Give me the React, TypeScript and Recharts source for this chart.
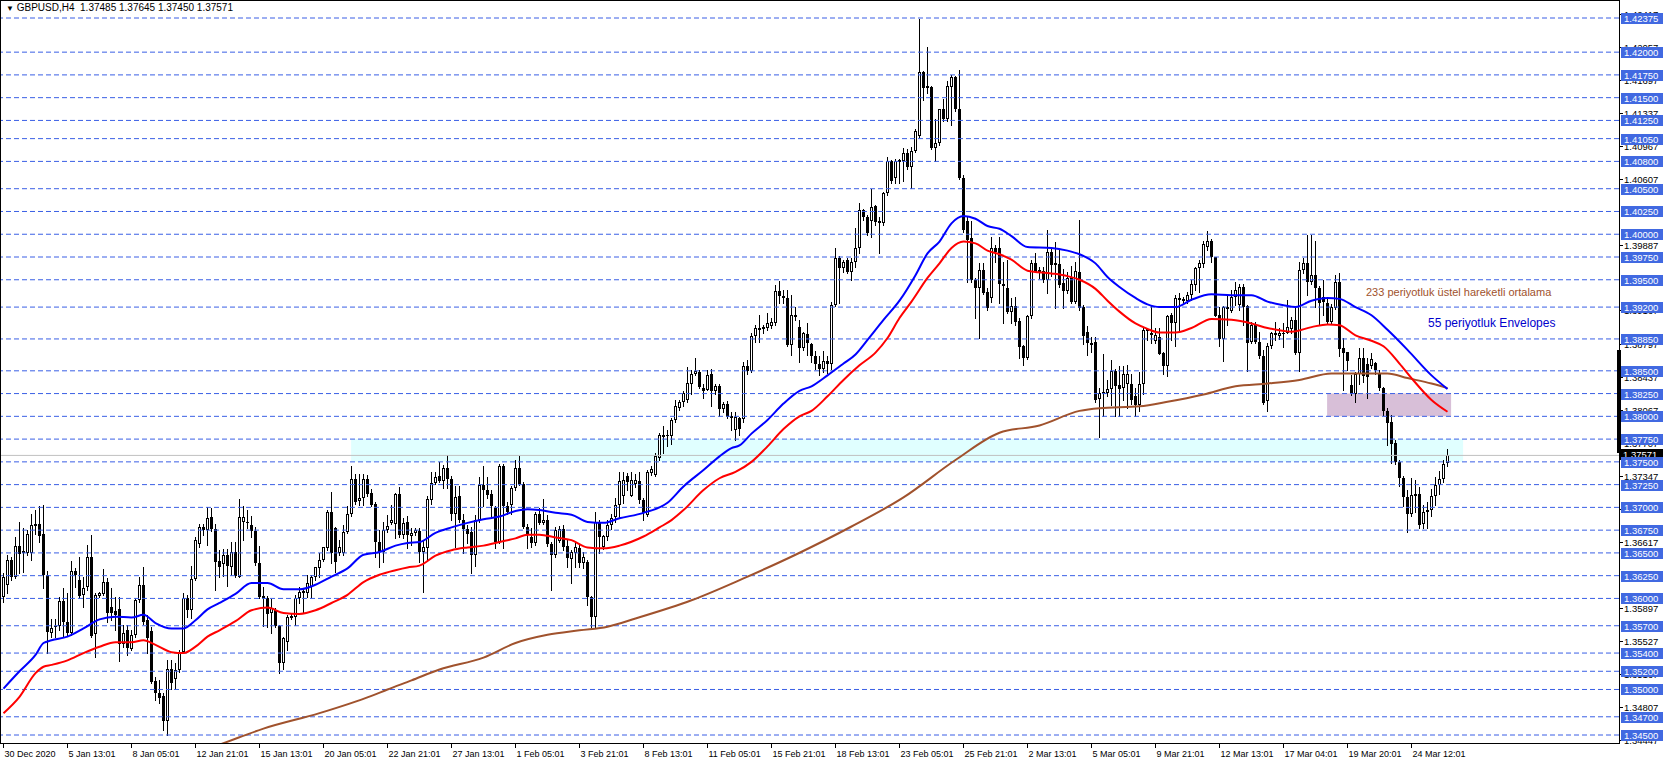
import React from "react";
import {
  Bar,
  ComposedChart,
  Line,
  ReferenceArea,
  ReferenceLine,
  XAxis,
  YAxis,
} from "recharts";

// GBPUSD H4 bars as [open, high, low, close]
const bars30DecTo13Jan = [
  [1.3602, 1.3628, 1.3596, 1.3623], [1.3615, 1.3648, 1.3606, 1.3642], [1.3642, 1.3646, 1.362, 1.3624], [1.3624, 1.3668, 1.3622, 1.3658],
  [1.3658, 1.3684, 1.3628, 1.3649], [1.365, 1.3677, 1.3629, 1.3652], [1.365, 1.3675, 1.3648, 1.3671], [1.365, 1.3693, 1.3642, 1.3681],
  [1.3681, 1.3697, 1.3671, 1.3682], [1.3682, 1.3701, 1.3662, 1.3669], [1.3671, 1.3703, 1.3611, 1.3626], [1.3626, 1.363, 1.354, 1.3563],
  [1.3562, 1.3577, 1.3558, 1.3568], [1.357, 1.3577, 1.3558, 1.3569], [1.357, 1.3602, 1.3565, 1.3597], [1.3597, 1.3612, 1.3558, 1.3574],
  [1.3574, 1.3606, 1.356, 1.3562], [1.3562, 1.3641, 1.356, 1.363], [1.363, 1.3633, 1.3613, 1.3626], [1.362, 1.3645, 1.36, 1.3603],
  [1.3604, 1.3624, 1.3591, 1.3612], [1.3613, 1.3659, 1.3609, 1.3646], [1.3646, 1.367, 1.3558, 1.3559], [1.3561, 1.3606, 1.3536, 1.3604],
  [1.3603, 1.3607, 1.3602, 1.3606], [1.3605, 1.3632, 1.3604, 1.3618], [1.3618, 1.3622, 1.3574, 1.3584], [1.3591, 1.3611, 1.3576, 1.3584],
  [1.3586, 1.3602, 1.3565, 1.3582], [1.3588, 1.3602, 1.3531, 1.355], [1.355, 1.3571, 1.3547, 1.3562], [1.3565, 1.3571, 1.3538, 1.3546],
  [1.3545, 1.3565, 1.3543, 1.356], [1.356, 1.36, 1.3558, 1.3598], [1.3598, 1.3624, 1.3596, 1.3615], [1.3615, 1.3634, 1.3572, 1.3574],
  [1.3576, 1.3582, 1.354, 1.3556], [1.3564, 1.3569, 1.3507, 1.3508], [1.3509, 1.3514, 1.3488, 1.3496], [1.3496, 1.351, 1.3485, 1.3491],
  [1.3493, 1.3496, 1.3456, 1.3465], [1.3465, 1.3532, 1.345, 1.3523], [1.3523, 1.3532, 1.3501, 1.3507], [1.3511, 1.3529, 1.3501, 1.3521],
  [1.3521, 1.3543, 1.3519, 1.3541], [1.3541, 1.3606, 1.354, 1.36], [1.36, 1.3604, 1.358, 1.3587], [1.3587, 1.3636, 1.3578, 1.3621],
  [1.3621, 1.3668, 1.362, 1.3664], [1.366, 1.3682, 1.3657, 1.3679], [1.3678, 1.3682, 1.367, 1.3675], [1.3675, 1.37, 1.3659, 1.3688],
];

const bars13JanTo25Jan = [
  [1.3689, 1.3699, 1.3674, 1.3676], [1.3676, 1.3682, 1.3609, 1.364], [1.3641, 1.3653, 1.3624, 1.3634], [1.3638, 1.3654, 1.3625, 1.3648],
  [1.3648, 1.3654, 1.3614, 1.3636], [1.3635, 1.3662, 1.3626, 1.3651], [1.3651, 1.3662, 1.3623, 1.3625], [1.3624, 1.3709, 1.3623, 1.3689],
  [1.3684, 1.3701, 1.3664, 1.3689], [1.3684, 1.3697, 1.3677, 1.3683], [1.3681, 1.3691, 1.3668, 1.3674], [1.3674, 1.3678, 1.3637, 1.3639],
  [1.3639, 1.3658, 1.36, 1.3602], [1.3603, 1.3613, 1.357, 1.3601], [1.3601, 1.3603, 1.3569, 1.3583], [1.3584, 1.3599, 1.3562, 1.3589],
  [1.3587, 1.3589, 1.3569, 1.357], [1.357, 1.3571, 1.3518, 1.3529], [1.3529, 1.3558, 1.3523, 1.3556], [1.3552, 1.3582, 1.3543, 1.358],
  [1.3578, 1.3584, 1.3577, 1.3581], [1.358, 1.3604, 1.3571, 1.36], [1.36, 1.3613, 1.3595, 1.3607], [1.3608, 1.3611, 1.3584, 1.3606],
  [1.3606, 1.3626, 1.3602, 1.3617], [1.3613, 1.3626, 1.3602, 1.3623], [1.3623, 1.3635, 1.362, 1.3634], [1.3633, 1.365, 1.3624, 1.3642],
  [1.3642, 1.3657, 1.3641, 1.3656], [1.3655, 1.3697, 1.3653, 1.3695], [1.3695, 1.3717, 1.3639, 1.365], [1.3677, 1.3679, 1.3629, 1.364],
  [1.365, 1.3664, 1.3648, 1.3657], [1.365, 1.3681, 1.3648, 1.3673], [1.3673, 1.3702, 1.3672, 1.3693], [1.3693, 1.3745, 1.3691, 1.3731],
  [1.3731, 1.3737, 1.3704, 1.3706], [1.3707, 1.3737, 1.3703, 1.371], [1.371, 1.3737, 1.3703, 1.3731], [1.3731, 1.3736, 1.3712, 1.3715],
  [1.3716, 1.372, 1.3701, 1.3703], [1.3704, 1.3706, 1.3646, 1.3662], [1.3662, 1.3675, 1.3635, 1.3651], [1.3651, 1.3684, 1.364, 1.3675],
  [1.3675, 1.3692, 1.3673, 1.368], [1.3683, 1.3703, 1.3682, 1.3686], [1.3682, 1.3716, 1.3666, 1.3715], [1.3715, 1.3722, 1.3668, 1.367],
  [1.367, 1.3688, 1.3666, 1.3683], [1.3684, 1.369, 1.3655, 1.367],
];

const bars25JanTo5Feb = [
  [1.3669, 1.3677, 1.3659, 1.3672], [1.3672, 1.3677, 1.367, 1.3675], [1.3674, 1.3677, 1.364, 1.3651], [1.3651, 1.3664, 1.3607, 1.3657],
  [1.3655, 1.3712, 1.3642, 1.3709], [1.3708, 1.3739, 1.3704, 1.3727], [1.3727, 1.3739, 1.3726, 1.3733], [1.3734, 1.375, 1.3728, 1.3729],
  [1.3729, 1.3747, 1.3721, 1.3743], [1.3743, 1.3758, 1.3721, 1.3731], [1.3731, 1.3734, 1.3686, 1.3693], [1.3693, 1.3723, 1.3657, 1.3711],
  [1.3712, 1.3723, 1.3684, 1.3686], [1.3686, 1.3693, 1.365, 1.3676], [1.3676, 1.3681, 1.3661, 1.3671], [1.3673, 1.3679, 1.3628, 1.3648],
  [1.3648, 1.3692, 1.3636, 1.3686], [1.3686, 1.3733, 1.3684, 1.3725], [1.3725, 1.3745, 1.3701, 1.3719], [1.3719, 1.3733, 1.371, 1.3714],
  [1.3715, 1.3719, 1.369, 1.3701], [1.3699, 1.3701, 1.3655, 1.3662], [1.3662, 1.3748, 1.3661, 1.3745], [1.3745, 1.3748, 1.3655, 1.3701],
  [1.3701, 1.3706, 1.3693, 1.3695], [1.3703, 1.3723, 1.3693, 1.3721], [1.3721, 1.3752, 1.3719, 1.3743], [1.3743, 1.3756, 1.3725, 1.3726],
  [1.3726, 1.3728, 1.3677, 1.3678], [1.3678, 1.3682, 1.3655, 1.3671], [1.3668, 1.3677, 1.3656, 1.3661], [1.3661, 1.3695, 1.3659, 1.3693],
  [1.3693, 1.3699, 1.3682, 1.3683], [1.3683, 1.3709, 1.3682, 1.3686], [1.3686, 1.3692, 1.3658, 1.366], [1.366, 1.3662, 1.3609, 1.3648],
  [1.3648, 1.3679, 1.3646, 1.3675], [1.3663, 1.368, 1.3662, 1.3676], [1.3676, 1.3681, 1.3653, 1.3657], [1.3658, 1.3664, 1.3635, 1.3644],
  [1.3643, 1.3653, 1.3617, 1.3651], [1.365, 1.3662, 1.3635, 1.3656], [1.3655, 1.3659, 1.3634, 1.3639], [1.3639, 1.3651, 1.3633, 1.3645],
  [1.364, 1.3642, 1.3593, 1.3602], [1.3602, 1.3603, 1.3569, 1.358], [1.358, 1.3695, 1.3567, 1.3684], [1.3684, 1.3686, 1.365, 1.3668],
  [1.3656, 1.367, 1.3654, 1.3669], [1.3668, 1.3686, 1.3664, 1.3681],
];

const bars5FebTo17Feb = [
  [1.3681, 1.3693, 1.3676, 1.3688], [1.3689, 1.371, 1.3684, 1.3703], [1.3703, 1.3739, 1.3688, 1.3729], [1.3712, 1.3739, 1.3705, 1.373],
  [1.3734, 1.3738, 1.3719, 1.3728], [1.3713, 1.3739, 1.3712, 1.373], [1.3726, 1.3737, 1.3722, 1.373], [1.3729, 1.3739, 1.3705, 1.3708],
  [1.3708, 1.371, 1.3686, 1.3694], [1.3692, 1.3741, 1.369, 1.3739], [1.3738, 1.3745, 1.3736, 1.3742], [1.3736, 1.376, 1.3734, 1.3756],
  [1.3754, 1.3782, 1.3752, 1.378], [1.3779, 1.3789, 1.376, 1.378], [1.3779, 1.3785, 1.3767, 1.3778], [1.3778, 1.3798, 1.377, 1.3796],
  [1.3796, 1.3818, 1.3794, 1.3811], [1.3809, 1.3818, 1.3807, 1.3816], [1.3816, 1.3828, 1.3811, 1.3826], [1.3818, 1.3854, 1.3816, 1.3837],
  [1.3836, 1.3851, 1.3825, 1.3847], [1.3847, 1.3864, 1.3845, 1.385], [1.3849, 1.3851, 1.3831, 1.3832], [1.3831, 1.3836, 1.382, 1.3828],
  [1.3829, 1.3851, 1.3829, 1.3845], [1.3846, 1.3852, 1.3811, 1.3828], [1.3828, 1.3836, 1.3825, 1.3833], [1.3833, 1.3836, 1.38, 1.3808],
  [1.3808, 1.3816, 1.3805, 1.3814], [1.3814, 1.3817, 1.3798, 1.3799], [1.38, 1.3805, 1.3785, 1.3798], [1.3785, 1.3805, 1.3774, 1.3799],
  [1.3798, 1.3799, 1.378, 1.3786], [1.3797, 1.386, 1.3794, 1.3855], [1.3855, 1.3862, 1.3847, 1.385], [1.385, 1.3891, 1.3849, 1.3888],
  [1.3888, 1.39, 1.3882, 1.3897], [1.3896, 1.3911, 1.3882, 1.3897], [1.3897, 1.39, 1.3891, 1.3898], [1.3897, 1.3913, 1.3895, 1.3903],
  [1.3899, 1.3908, 1.3897, 1.3904], [1.3902, 1.3944, 1.39, 1.3938], [1.3938, 1.3949, 1.3924, 1.3932], [1.3932, 1.3939, 1.3924, 1.393],
  [1.393, 1.3939, 1.3877, 1.3878], [1.3878, 1.3933, 1.3867, 1.3911], [1.3911, 1.392, 1.3906, 1.3909], [1.3898, 1.3906, 1.386, 1.3875],
  [1.3875, 1.3893, 1.3873, 1.3891], [1.389, 1.3902, 1.3867, 1.388],
];

const bars17FebTo1Mar = [
  [1.3879, 1.388, 1.386, 1.3866], [1.3866, 1.3872, 1.3852, 1.3858], [1.3858, 1.3866, 1.3845, 1.3852], [1.3852, 1.3872, 1.3849, 1.3861],
  [1.3861, 1.3866, 1.3848, 1.3857], [1.3857, 1.3926, 1.3852, 1.3922], [1.3922, 1.3985, 1.3921, 1.3974], [1.3974, 1.3976, 1.3924, 1.3963],
  [1.3963, 1.3972, 1.3959, 1.397], [1.3972, 1.3974, 1.3957, 1.3959], [1.3959, 1.3974, 1.395, 1.397], [1.397, 1.4007, 1.3964, 1.3985],
  [1.3985, 1.4034, 1.3979, 1.4027], [1.4027, 1.4028, 1.4016, 1.4019], [1.4019, 1.4021, 1.3999, 1.4001], [1.4014, 1.405, 1.3997, 1.403],
  [1.4031, 1.4032, 1.401, 1.4013], [1.4015, 1.4019, 1.3979, 1.4012], [1.4012, 1.4046, 1.401, 1.4045], [1.4045, 1.4085, 1.4043, 1.408],
  [1.408, 1.4082, 1.4056, 1.4058], [1.4062, 1.4083, 1.4056, 1.408], [1.408, 1.4083, 1.4056, 1.4081], [1.408, 1.4095, 1.4058, 1.4089],
  [1.4089, 1.4094, 1.4072, 1.4074], [1.4074, 1.4096, 1.4051, 1.4091], [1.4091, 1.4116, 1.409, 1.4113], [1.4108, 1.4236, 1.4107, 1.4178],
  [1.4178, 1.4179, 1.4147, 1.4161], [1.4161, 1.4206, 1.4155, 1.4163], [1.4162, 1.4163, 1.4094, 1.4095], [1.4095, 1.4127, 1.408, 1.41],
  [1.41, 1.4138, 1.4098, 1.4138], [1.4138, 1.4149, 1.4124, 1.4127], [1.4127, 1.4168, 1.4124, 1.4163], [1.4162, 1.4175, 1.412, 1.4173],
  [1.4173, 1.4174, 1.4135, 1.4138], [1.4138, 1.418, 1.4061, 1.4062], [1.4062, 1.4065, 1.4003, 1.4005], [1.4015, 1.4019, 1.3948, 1.3994],
  [1.3996, 1.4015, 1.3948, 1.395], [1.395, 1.3952, 1.3908, 1.3941], [1.3941, 1.3968, 1.3886, 1.3961], [1.3961, 1.3968, 1.3934, 1.3936],
  [1.3937, 1.3941, 1.3917, 1.3919], [1.393, 1.3997, 1.3926, 1.3985], [1.3985, 1.3988, 1.397, 1.3981], [1.3985, 1.3997, 1.3925, 1.3945],
  [1.3945, 1.397, 1.3902, 1.3943], [1.3941, 1.3972, 1.3913, 1.3915],
];

const bars1MarTo11Mar = [
  [1.3915, 1.393, 1.3902, 1.3921], [1.3921, 1.3931, 1.39, 1.3904], [1.3905, 1.3908, 1.3864, 1.3876], [1.3877, 1.3878, 1.3856, 1.3864],
  [1.3864, 1.3911, 1.3863, 1.391], [1.391, 1.3972, 1.3908, 1.3968], [1.3968, 1.3979, 1.3958, 1.3959], [1.3958, 1.3964, 1.3952, 1.3961],
  [1.396, 1.3964, 1.3948, 1.395], [1.395, 1.4005, 1.3935, 1.3981], [1.3981, 1.3984, 1.3954, 1.3966], [1.3968, 1.3991, 1.3919, 1.3966],
  [1.3967, 1.3984, 1.3942, 1.3944], [1.3946, 1.3962, 1.3919, 1.3938], [1.3938, 1.3959, 1.3936, 1.3952], [1.3953, 1.3965, 1.3924, 1.3926],
  [1.3926, 1.397, 1.3924, 1.396], [1.3959, 1.4016, 1.3917, 1.3919], [1.392, 1.3922, 1.3879, 1.3888], [1.3893, 1.3899, 1.3867, 1.388],
  [1.3879, 1.3887, 1.3871, 1.3881], [1.3882, 1.3887, 1.3816, 1.3818], [1.3819, 1.3831, 1.3777, 1.3826], [1.3827, 1.3869, 1.38, 1.3825],
  [1.3826, 1.384, 1.3822, 1.383], [1.383, 1.3862, 1.3813, 1.385], [1.385, 1.3852, 1.38, 1.3833], [1.3834, 1.3855, 1.38, 1.383],
  [1.3831, 1.3855, 1.3818, 1.3847], [1.3836, 1.3856, 1.3809, 1.3847], [1.3836, 1.3847, 1.3814, 1.3818], [1.3822, 1.3831, 1.38, 1.3813],
  [1.3813, 1.3849, 1.3806, 1.3836], [1.3836, 1.3897, 1.3825, 1.3895], [1.3895, 1.3897, 1.3884, 1.3896], [1.3889, 1.3921, 1.388, 1.3891],
  [1.3883, 1.3897, 1.388, 1.3889], [1.3887, 1.3897, 1.3868, 1.3869], [1.387, 1.3871, 1.3847, 1.3855], [1.3855, 1.3911, 1.3844, 1.391],
  [1.3911, 1.3913, 1.3884, 1.3903], [1.3903, 1.3933, 1.3877, 1.393], [1.393, 1.3935, 1.3893, 1.3928], [1.3927, 1.3931, 1.3924, 1.3929],
  [1.3927, 1.3937, 1.3924, 1.3933], [1.3933, 1.395, 1.3928, 1.3945], [1.3944, 1.3964, 1.3939, 1.3963], [1.3963, 1.3972, 1.3937, 1.3968],
  [1.3967, 1.3993, 1.3964, 1.3989], [1.3986, 1.4004, 1.3983, 1.3993],
];

const bars11MarTo25Mar = [
  [1.3993, 1.3995, 1.397, 1.3975], [1.3975, 1.3975, 1.391, 1.391], [1.3911, 1.392, 1.3877, 1.3885], [1.3885, 1.3921, 1.3861, 1.392],
  [1.392, 1.3933, 1.39, 1.3918], [1.3916, 1.3939, 1.3915, 1.3931], [1.3931, 1.3948, 1.3922, 1.3939], [1.3922, 1.3945, 1.3917, 1.3942],
  [1.3942, 1.3945, 1.39, 1.392], [1.3921, 1.3922, 1.385, 1.3881], [1.3882, 1.3904, 1.388, 1.39], [1.39, 1.3904, 1.388, 1.3882],
  [1.3882, 1.3893, 1.3864, 1.3866], [1.3866, 1.3873, 1.3814, 1.3815], [1.3817, 1.388, 1.3806, 1.3877], [1.3877, 1.3893, 1.3875, 1.3891],
  [1.3889, 1.3904, 1.3884, 1.3891], [1.3888, 1.3897, 1.3885, 1.3892], [1.3892, 1.3902, 1.3876, 1.3891], [1.3892, 1.3928, 1.3891, 1.3898],
  [1.3896, 1.3909, 1.3891, 1.3906], [1.3906, 1.392, 1.3869, 1.387], [1.387, 1.397, 1.385, 1.3961], [1.3961, 1.3974, 1.3957, 1.3968],
  [1.3968, 1.3999, 1.3933, 1.3948], [1.3948, 1.3999, 1.3945, 1.3955], [1.3955, 1.3993, 1.392, 1.3941], [1.3941, 1.3943, 1.39, 1.3924],
  [1.3931, 1.395, 1.3911, 1.3926], [1.3924, 1.3929, 1.3902, 1.3904], [1.3904, 1.3923, 1.3902, 1.392], [1.3919, 1.3955, 1.3918, 1.3947],
  [1.3947, 1.3957, 1.3866, 1.3874], [1.3875, 1.3886, 1.3829, 1.387], [1.3871, 1.3871, 1.3851, 1.3861], [1.3834, 1.3845, 1.3823, 1.3825],
  [1.3825, 1.3849, 1.3816, 1.3847], [1.3847, 1.3875, 1.3836, 1.3864], [1.3864, 1.3875, 1.3838, 1.3844], [1.3857, 1.3864, 1.382, 1.3843],
  [1.3855, 1.387, 1.3853, 1.3863], [1.3859, 1.386, 1.3847, 1.3851], [1.3847, 1.3851, 1.3829, 1.3831], [1.3831, 1.3832, 1.3802, 1.3806],
  [1.3806, 1.3809, 1.3769, 1.3793], [1.3794, 1.3801, 1.3749, 1.377], [1.3771, 1.3774, 1.3748, 1.375], [1.375, 1.3752, 1.3723, 1.3732],
  [1.3732, 1.3734, 1.3701, 1.3711], [1.3711, 1.3719, 1.3673, 1.3693], [1.3693, 1.3732, 1.3691, 1.3714], [1.3715, 1.373, 1.3695, 1.3713],
  [1.3715, 1.3722, 1.3677, 1.3681], [1.3682, 1.3703, 1.3677, 1.3695], [1.3695, 1.3706, 1.3677, 1.3697], [1.3697, 1.372, 1.369, 1.3712],
  [1.3712, 1.3733, 1.3703, 1.3725], [1.3725, 1.374, 1.3715, 1.3731], [1.3731, 1.3752, 1.3728, 1.3748], [1.37485, 1.37645, 1.3745, 1.37571],
];

// one label every 16 bars
const timeLabels = [
  "30 Dec 2020", "5 Jan 13:01", "8 Jan 05:01", "12 Jan 21:01", "15 Jan 13:01", "20 Jan 05:01",
  "22 Jan 21:01", "27 Jan 13:01", "1 Feb 05:01", "3 Feb 21:01", "8 Feb 13:01", "11 Feb 05:01",
  "15 Feb 21:01", "18 Feb 13:01", "23 Feb 05:01", "25 Feb 21:01", "2 Mar 13:01", "5 Mar 05:01",
  "9 Mar 21:01", "12 Mar 13:01", "17 Mar 04:01", "19 Mar 20:01", "24 Mar 12:01",
];

// user drawn horizontal levels
const levels = [
  1.42375, 1.42, 1.4175, 1.415, 1.4125, 1.4105, 1.408, 1.405, 1.4025, 1.4, 1.3975, 1.395, 1.392, 1.3885,
  1.385, 1.3825, 1.38, 1.3775, 1.375, 1.3725, 1.37, 1.3675, 1.365, 1.3625, 1.36, 1.357, 1.354, 1.352,
  1.35, 1.347, 1.345,
];

// terminal price scale marks (those not fully hidden behind a level box)
const scaleMarks = [
  1.42417, 1.42057, 1.41697, 1.41337, 1.40967, 1.40607, 1.39887, 1.39167, 1.38797,
  1.38437, 1.38067, 1.37707, 1.37347, 1.36977, 1.36617, 1.35897, 1.35527, 1.35167, 1.34807, 1.34447,
];

const lastPrice = 1.37571;

// [bar, value] readings of the averages
const envelopeBlue = [
  [0, 1.3501], [4, 1.352], [8, 1.3538], [10, 1.3551], [12, 1.3554], [16, 1.3558], [20, 1.3567], [24, 1.3577],
  [28, 1.358], [32, 1.3579], [35, 1.3582], [38, 1.3573], [42, 1.3567], [45, 1.3567], [48, 1.3576], [51, 1.3588],
  [54, 1.3595], [58, 1.3605], [62, 1.3617], [66, 1.3617], [70, 1.361], [74, 1.361], [78, 1.3615], [82, 1.3624],
  [86, 1.3633], [90, 1.3648], [94, 1.3651], [98, 1.3658], [101, 1.3661], [104, 1.3662], [108, 1.3672], [112, 1.3678],
  [116, 1.3683], [120, 1.3687], [124, 1.369], [128, 1.3696], [131, 1.3698], [134, 1.3697], [138, 1.3694], [142, 1.3692],
  [146, 1.3684], [150, 1.3683], [154, 1.3688], [160, 1.3694], [166, 1.3705], [170, 1.3723], [175, 1.3741], [179, 1.3756],
  [182, 1.3765], [184, 1.3768], [187, 1.3781], [191, 1.3796], [195, 1.3814], [199, 1.3828], [202, 1.3833], [206, 1.3845],
  [210, 1.3858], [213, 1.3868], [216, 1.3884], [220, 1.3906], [224, 1.3927], [228, 1.3955], [231, 1.3979], [234, 1.3992],
  [237, 1.4012], [240, 1.402], [243, 1.4017], [246, 1.4009], [249, 1.4006], [252, 1.3998], [256, 1.3986], [262, 1.3985],
  [266, 1.3982], [269, 1.3978], [273, 1.3968], [276, 1.3953], [279, 1.3942], [283, 1.393], [286, 1.3923], [289, 1.392],
  [293, 1.392], [297, 1.3928], [302, 1.3934], [307, 1.3933], [312, 1.3933], [316, 1.3926], [320, 1.3922], [323, 1.392],
  [327, 1.3927], [331, 1.393], [334, 1.3929], [338, 1.392], [342, 1.3911], [346, 1.3895], [351, 1.3873], [357, 1.3845],
  [361, 1.383],
];

const envelopeRed = [
  [0, 1.3474], [4, 1.3492], [8, 1.3518], [10, 1.3525], [12, 1.3527], [16, 1.3532], [20, 1.354], [24, 1.3547],
  [28, 1.3552], [32, 1.3552], [35, 1.3554], [38, 1.3549], [42, 1.3541], [45, 1.354], [48, 1.3547], [51, 1.3558],
  [54, 1.3565], [58, 1.3575], [62, 1.3587], [66, 1.359], [70, 1.3584], [74, 1.3583], [78, 1.3587], [82, 1.3595],
  [86, 1.3604], [90, 1.3618], [94, 1.3626], [98, 1.3631], [101, 1.3634], [104, 1.3636], [108, 1.3647], [112, 1.3653],
  [116, 1.3656], [120, 1.3658], [124, 1.3662], [128, 1.3666], [131, 1.367], [134, 1.367], [138, 1.3667], [142, 1.3664],
  [146, 1.3656], [150, 1.3655], [154, 1.3658], [160, 1.3668], [164, 1.3678], [167, 1.3686], [170, 1.3697], [175, 1.3719],
  [179, 1.3732], [183, 1.3739], [187, 1.375], [191, 1.3767], [195, 1.3786], [199, 1.38], [202, 1.3806], [206, 1.3822],
  [210, 1.384], [214, 1.3856], [218, 1.387], [221, 1.3886], [224, 1.3908], [227, 1.3926], [231, 1.3952], [234, 1.3968],
  [237, 1.3985], [240, 1.3992], [243, 1.399], [246, 1.3982], [249, 1.3978], [252, 1.3972], [256, 1.396], [262, 1.3957],
  [266, 1.3954], [269, 1.395], [273, 1.394], [276, 1.3927], [279, 1.3915], [283, 1.3902], [286, 1.3896], [289, 1.3892],
  [293, 1.3892], [297, 1.3897], [302, 1.3907], [307, 1.3906], [312, 1.3902], [316, 1.3897], [322, 1.3893], [327, 1.3898],
  [331, 1.3901], [334, 1.39], [338, 1.3889], [342, 1.3883], [345, 1.3877], [349, 1.3858], [352, 1.3842], [357, 1.3818],
  [361, 1.3805],
];

const ema233 = [
  [48, 1.343], [55, 1.3441], [65, 1.3457], [79, 1.3474], [92, 1.3493], [96, 1.35], [102, 1.351], [109, 1.3522],
  [120, 1.3535], [128, 1.3551], [136, 1.356], [144, 1.3565], [151, 1.3569], [158, 1.3578], [172, 1.3598], [185, 1.3622],
  [198, 1.3648], [212, 1.3679], [225, 1.3711], [238, 1.3752], [249, 1.3782], [259, 1.379], [269, 1.3806], [274, 1.3809],
  [284, 1.3811], [291, 1.3816], [300, 1.3824], [308, 1.3833], [316, 1.3836], [324, 1.384], [332, 1.3847], [341, 1.3847],
  [346, 1.3847], [351, 1.3842], [357, 1.3836], [361, 1.3831],
];

// rectangles: bar span and price span
const cyanZone = { from: 86.9, to: 364.9, low: 1.375, high: 1.3775 };
const pinkZone = { from: 330.9, to: 361.9, low: 1.38, high: 1.3825 };

const W = 1665;
const H = 764;
const AXIS_W = 46;
const AXIS_H = 21;
const PLOT_R = W - AXIS_W;
const PLOT_B = H - AXIS_H;
const FONT = "'Liberation Sans', Arial, sans-serif";

const candles = [
  ...bars30DecTo13Jan, ...bars13JanTo25Jan, ...bars25JanTo5Feb, ...bars5FebTo17Feb,
  ...bars17FebTo1Mar, ...bars1MarTo11Mar, ...bars11MarTo25Mar,
];
const toMap = (pts: number[][]) => new Map(pts.map(([i, v]) => [i, v]));
const blueMap = toMap(envelopeBlue);
const redMap = toMap(envelopeRed);
const brownMap = toMap(ema233);

const data = candles.map(([o, h, l, c], i) => ({
  i, o, h, l, c,
  range: [l, h],
  blue: blueMap.get(i) ?? null,
  red: redMap.get(i) ?? null,
  brown: brownMap.get(i) ?? null,
}));

const labelBars = timeLabels.map((_, k) => k * 16);

function Candle(props: any) {
  const { x, y, width, height, payload } = props;
  const { o, h, l, c } = payload;
  const cx = Math.round(x + width / 2 - 0.5) + 0.5;
  const top = Math.min(y, y + height);
  const span = Math.abs(height);
  const py = (v: number) => (h === l ? top : top + ((h - v) / (h - l)) * span);
  const bTop = Math.round(Math.min(py(o), py(c)));
  const bBot = Math.round(Math.max(py(o), py(c)));
  const up = c >= o;
  return (
    <g>
      <line x1={cx} x2={cx} y1={Math.round(top)} y2={Math.round(top + span) + 1} stroke="#000" />
      {up ? (
        <rect x={cx - 1} y={bTop + 0.5} width={2} height={Math.max(bBot - bTop, 2) - 1} fill="#fff" stroke="#000" />
      ) : (
        <rect x={cx - 1.5} y={bTop} width={3} height={Math.max(bBot - bTop, 1)} fill="#000" />
      )}
    </g>
  );
}

function PriceTick(props: any) {
  const { y, payload } = props;
  const v = payload.value;
  const cy = Math.round(y);
  if (v === lastPrice) {
    return (
      <g>
        <rect x={PLOT_R} y={cy - 6} width={44} height={11} fill="#000" />
        <text x={PLOT_R + 4} y={cy + 3} fill="#fff" fontSize={9.5} fontFamily={FONT}>{v.toFixed(5)}</text>
      </g>
    );
  }
  if (levels.includes(v)) {
    return (
      <g>
        <rect x={PLOT_R + 2} y={cy - 5} width={42} height={11} fill="#4169e1" />
        <text x={PLOT_R + 5} y={cy + 4} fill="#fff" fontSize={9.5} fontFamily={FONT}>{v.toFixed(5)}</text>
      </g>
    );
  }
  return (
    <g>
      <line x1={PLOT_R} x2={PLOT_R + 4} y1={cy + 0.5} y2={cy + 0.5} stroke="#000" />
      <text x={PLOT_R + 5} y={cy + 4} fill="#000" fontSize={9.5} fontFamily={FONT}>{v.toFixed(5)}</text>
    </g>
  );
}

function TimeTick(props: any) {
  const { x, payload } = props;
  const k = labelBars.indexOf(payload.value);
  const tx = Math.round(x - 0.5) + 0.5;
  return (
    <g>
      <line x1={tx} x2={tx} y1={PLOT_B} y2={PLOT_B + 5} stroke="#000" />
      <text x={tx + 1} y={PLOT_B + 14} fill="#000" fontSize={9} fontFamily={FONT}>{timeLabels[k]}</text>
    </g>
  );
}

export default function App() {
  return (
    <div style={{ position: "relative", width: W, height: H, background: "#fff", fontFamily: FONT }}>
      <style>{"body{margin:0}"}</style>
      <ComposedChart width={W} height={H} data={data} margin={{ top: 0, right: 0, bottom: 0, left: 0 }}>
        <XAxis
          dataKey="i"
          type="number"
          domain={[-0.875, 403.875]}
          allowDataOverflow
          ticks={labelBars}
          interval={0}
          height={AXIS_H}
          axisLine={false}
          tickLine={false}
          tick={<TimeTick />}
        />
        <YAxis
          orientation="right"
          type="number"
          domain={[1.344122, 1.425727]}
          allowDataOverflow
          ticks={[...scaleMarks, lastPrice, ...levels]}
          interval={0}
          width={AXIS_W}
          axisLine={false}
          tickLine={false}
          tick={<PriceTick />}
        />
        <ReferenceArea x1={cyanZone.from} x2={cyanZone.to} y1={cyanZone.low} y2={cyanZone.high} fill="#e0ffff" fillOpacity={1} stroke="none" />
        <ReferenceArea x1={pinkZone.from} x2={pinkZone.to} y1={pinkZone.low} y2={pinkZone.high} fill="#d8bfd8" fillOpacity={1} stroke="none" />
        <ReferenceLine y={lastPrice} stroke="#c0c0c0" />
        {levels.map((lv) => (
          <ReferenceLine key={lv} y={lv} stroke="#3a5fe5" strokeDasharray="5 3" />
        ))}
        <Line dataKey="brown" type="monotone" stroke="#a0522d" strokeWidth={2} dot={false} activeDot={false} connectNulls isAnimationActive={false} />
        <Line dataKey="red" type="monotone" stroke="#ff0000" strokeWidth={2} dot={false} activeDot={false} connectNulls isAnimationActive={false} />
        <Line dataKey="blue" type="monotone" stroke="#0000ff" strokeWidth={2} dot={false} activeDot={false} connectNulls isAnimationActive={false} />
        <Bar dataKey="range" barSize={3} shape={<Candle />} isAnimationActive={false} />
      </ComposedChart>
      <div style={{ position: "absolute", left: 0, top: 0, width: PLOT_R + 1, height: PLOT_B + 1, border: "1px solid #000", boxSizing: "border-box", pointerEvents: "none" }} />
      <div style={{ position: "absolute", left: PLOT_R - 2, top: 350, width: 4, height: 103, background: "#000" }} />
      <div style={{ position: "absolute", left: 6, top: 2, fontSize: 10, whiteSpace: "pre", color: "#000" }}>
        <span style={{ fontSize: 8 }}>▼</span> GBPUSD,H4  1.37485 1.37645 1.37450 1.37571
      </div>
      <div style={{ position: "absolute", left: 1366, top: 285, fontSize: 11, lineHeight: "14px", color: "#a0522d", whiteSpace: "pre" }}>
        233 periyotluk üstel hareketli ortalama
      </div>
      <div style={{ position: "absolute", left: 1428, top: 316, fontSize: 12, lineHeight: "15px", color: "#0000cd", whiteSpace: "pre" }}>
        55 periyotluk Envelopes
      </div>
    </div>
  );
}
